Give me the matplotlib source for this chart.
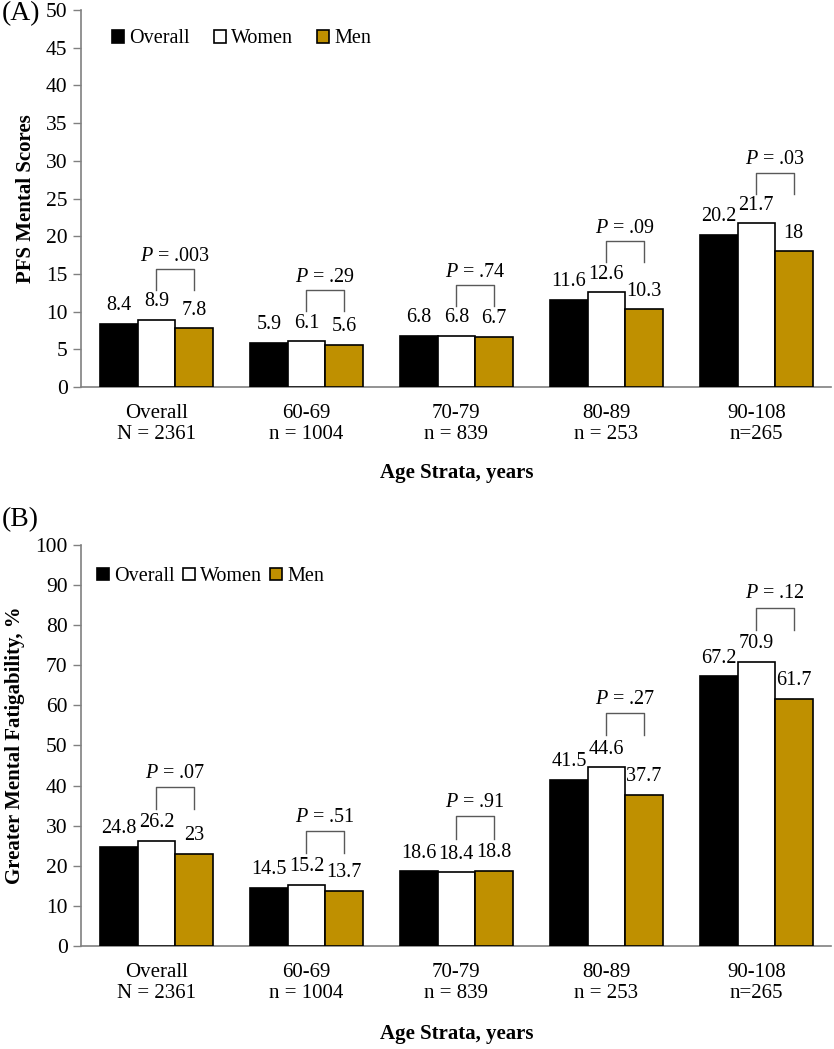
import numpy as np
import matplotlib
matplotlib.use("Agg")
import matplotlib.pyplot as plt

plt.rcParams['font.family'] = ['Liberation Serif', 'DejaVu Serif']
plt.rcParams['mathtext.fontset'] = 'custom'
plt.rcParams['mathtext.rm'] = 'Liberation Serif'
plt.rcParams['mathtext.it'] = 'Liberation Serif:italic'

# data
strata = ['Overall\nN = 2361', '60-69\nn = 1004', '70-79\nn = 839',
          '80-89\nn = 253', '90-108\nn=265']
series = ['Overall', 'Women', 'Men']

pfs_overall = [8.4, 5.9, 6.8, 11.6, 20.2]
pfs_women = [8.9, 6.1, 6.8, 12.6, 21.7]
pfs_men = [7.8, 5.6, 6.7, 10.3, 18]
pfs_p = ['.003', '.29', '.74', '.09', '.03']

pct_overall = [24.8, 14.5, 18.6, 41.5, 67.2]
pct_women = [26.2, 15.2, 18.4, 44.6, 70.9]
pct_men = [23, 13.7, 18.8, 37.7, 61.7]
pct_p = ['.07', '.51', '.91', '.27', '.12']

colors = ['#000000', '#ffffff', '#bf9000']
axis_grey = '#808080'


def fmt(v):
    return ('%g' % v)


def draw_panel(ax, vals, pvals, ymax, ystep, ylabel, legend_anchor, legend_gap, xpad):
    x = np.arange(len(strata))
    w = 0.25
    for i, (name, v) in enumerate(zip(series, vals)):
        bars = ax.bar(x + (i - 1) * w, v, w, color=colors[i], edgecolor='black',
                      linewidth=1.2, label=name, zorder=3)
        for b, val in zip(bars, v):
            ax.annotate(fmt(val), (b.get_x() + b.get_width() / 2, b.get_height()),
                        xytext=(0, 13), textcoords='offset points',
                        ha='center', va='center', fontsize=14.5)

    # P-value brackets between women and men
    for j, p in enumerate(pvals):
        top = max(vals[1][j], vals[2][j])
        leg0 = top + 0.079 * ymax
        leg1 = leg0 + 0.056 * ymax
        xa, xb = x[j], x[j] + w
        ax.plot([xa, xa, xb, xb], [leg0, leg1, leg1, leg0], color='#595959',
                linewidth=1.0, zorder=4)
        ax.text((xa + xb) / 2, leg1 + 0.034 * ymax, '$P$ = ' + p,
                ha='center', va='center', fontsize=14.5)

    ax.set_xlim(-0.5, len(strata) - 0.5)
    ax.set_ylim(0, ymax)
    ax.set_yticks(np.arange(0, ymax + 1, ystep))
    ax.set_xticks(x)
    ax.set_xticklabels(strata, fontsize=15, linespacing=1.15)
    ax.tick_params(axis='x', length=0, pad=12)
    ax.tick_params(axis='y', length=6, width=1.0, color=axis_grey,
                   labelsize=15.5, pad=4)
    for s in ['top', 'right']:
        ax.spines[s].set_visible(False)
    for s in ['left', 'bottom']:
        ax.spines[s].set_color(axis_grey)
        ax.spines[s].set_linewidth(1.2)
    ax.set_ylabel(ylabel, fontsize=15, fontweight='bold', labelpad=7)
    ax.set_xlabel('Age Strata, years', fontsize=15, fontweight='bold', labelpad=xpad)
    ax.legend(loc='upper left', bbox_to_anchor=legend_anchor, ncol=3, frameon=False,
              fontsize=14.5, handlelength=0.6, handleheight=0.6,
              handletextpad=0.25, columnspacing=legend_gap, borderaxespad=0)


fig = plt.figure(figsize=(8.34, 10.49), dpi=100)
ax1 = fig.add_axes([0.0977, 0.631, 0.899, 0.3594])
ax2 = fig.add_axes([0.0977, 0.0982, 0.899, 0.3823])

draw_panel(ax1, [pfs_overall, pfs_women, pfs_men], pfs_p, 50, 5,
           'PFS Mental Scores', (0.03, 0.97), 1.2, 14)
draw_panel(ax2, [pct_overall, pct_women, pct_men], pct_p, 100, 10,
           'Greater Mental Fatigability, %', (0.01, 0.965), 0.4, 15)

fig.text(0.002, 0.999, '(A)', fontsize=20, va='top', ha='left')
fig.text(0.002, 0.517, '(B)', fontsize=20, va='top', ha='left')

fig.savefig('out.png', dpi=100)
